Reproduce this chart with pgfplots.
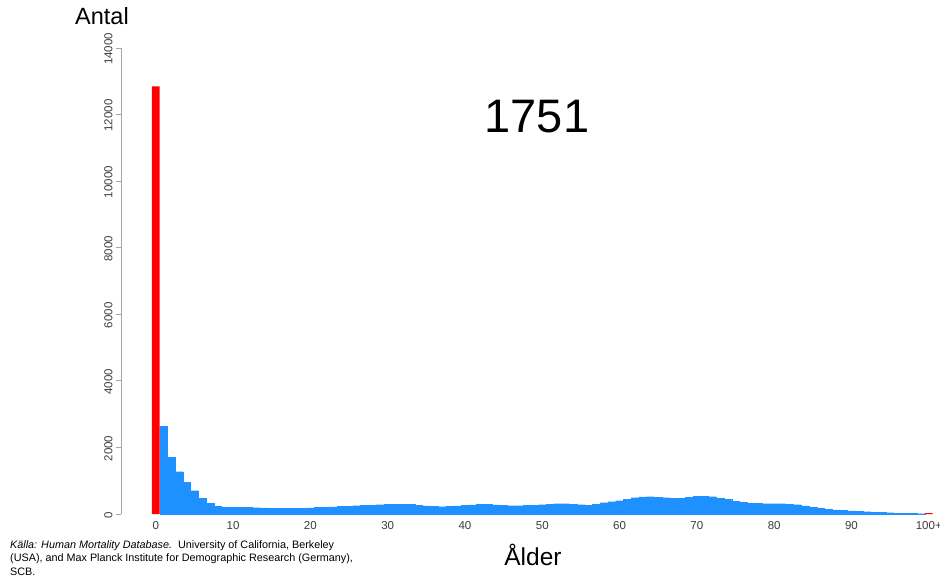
\documentclass[border=0pt]{standalone}
\usepackage{fontspec}
\setmainfont{Liberation Sans}
\usepackage{pgfplots}
\pgfplotsset{compat=1.18}
\usepackage{pgfplotstable}
\definecolor{barblue}{RGB}{30,144,255}
\definecolor{axgray}{RGB}{165,165,165}
\definecolor{labgray}{RGB}{60,60,60}

% deaths by age, Sweden 1751
\pgfplotstableread{
age n
1 2640
2 1700
3 1270
4 960
5 700
6 480
7 330
8 230
9 200
10 200
11 200
12 195
13 190
14 185
15 180
16 175
17 175
18 175
19 180
20 185
21 195
22 205
23 215
24 225
25 240
26 250
27 260
28 270
29 280
30 290
31 295
32 295
33 290
34 270
35 245
36 225
37 220
38 230
39 245
40 260
41 275
42 285
43 285
44 275
45 260
46 250
47 250
48 255
49 265
50 280
51 300
52 310
53 310
54 300
55 280
56 270
57 290
58 340
59 370
60 400
61 450
62 490
63 515
64 520
65 510
66 490
67 470
68 480
69 500
70 525
71 540
72 520
73 480
74 440
75 390
76 350
77 325
78 315
79 310
80 310
81 310
82 300
83 280
84 245
85 205
86 170
87 145
88 125
89 110
90 95
91 80
92 68
93 55
94 45
95 38
96 30
97 22
98 15
99 10
}\bluedata

\pgfplotstableread{
age n
0 12850
100 30
}\reddata

\begin{document}
\begin{tikzpicture}
\path[use as bounding box] (0pt,0pt) rectangle (940pt,582pt);
\begin{axis}[
    at={(121pt,68pt)}, anchor=south west,
    scale only axis, width=815.5pt, height=466pt,
    xmin=-4.5, xmax=101, ymin=0, ymax=14000,
    axis x line*=bottom, axis y line*=left,
    x axis line style={draw=none},
    y axis line style={axgray, line width=0.8pt},
    xtick={0,10,20,30,40,50,60,70,80,90,100},
    xticklabels={0,10,20,30,40,50,60,70,80,90,100+},
    xtick style={draw=none},
    ytick={0,2000,4000,6000,8000,10000,12000,14000},
    ytick style={axgray, line width=0.8pt},
    tick align=outside, major tick length=5pt,
    scaled y ticks=false,
    /pgf/number format/1000 sep={},
    /pgf/number format/assume math mode=true,
    tick label style={font=\fontsize{11.5}{13}\selectfont, text=labgray},
    yticklabel style={rotate=90, anchor=south, xshift=-1pt},
    xticklabel style={yshift=1pt},
    clip=false,
]
\addplot[ybar, bar width=1, bar shift=0pt, fill=barblue, draw=barblue, line width=0.3pt]
    table[x=age, y=n] {\bluedata};
\addplot[ybar, bar width=1, bar shift=0pt, fill=red, draw=none]
    table[x=age, y=n] {\reddata};
\end{axis}
\node[font=\fontsize{23.5}{26}\selectfont] at (102pt,566pt) {Antal};
\node[font=\fontsize{47}{50}\selectfont] at (537pt,465pt) {1751};
\node[font=\fontsize{24.5}{27}\selectfont] at (533pt,27pt) {Ålder};
\node[anchor=north west, align=left, inner sep=0pt,
      font=\fontsize{10.8}{13.5}\selectfont] at (10pt,42pt)
    {\textit{Källa: Human Mortality Database.}\ \ University of California, Berkeley\\
     (USA), and Max Planck Institute for Demographic Research (Germany),\\
     SCB.};
\end{tikzpicture}
\end{document}
